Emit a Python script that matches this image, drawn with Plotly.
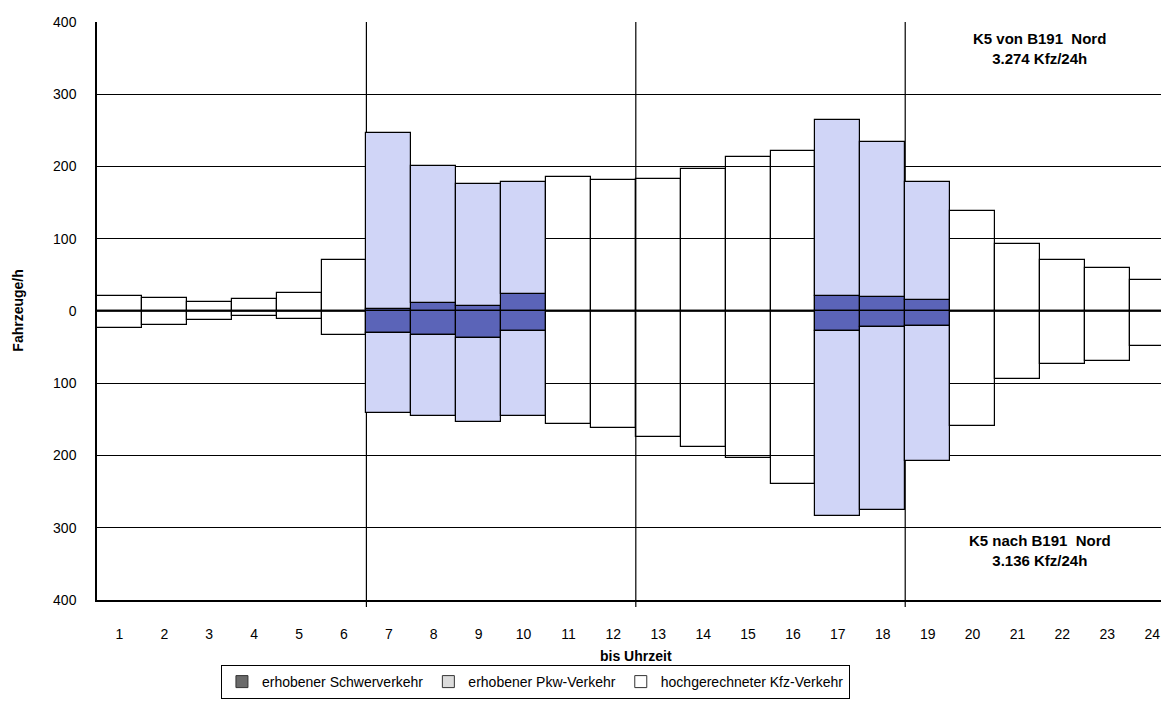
import plotly.graph_objects as go

# Stunden (bis Uhrzeit)
stunden = list(range(1, 25))
N = None

# Richtung "von B191 Nord" (nach oben)
von_schwer = [N, N, N, N, N, N, 3, 11, 7, 23, N, N, N, N, N, N, 21, 19, 15, N, N, N, N, N]
von_pkw = [N, N, N, N, N, N, 243, 190, 169, 155, N, N, N, N, N, N, 243, 215, 163, N, N, N, N, N]
von_hoch = [21, 18, 13, 17, 25, 71, N, N, N, N, 185, 181, 183, 197, 213, 222, N, N, N, 138, 93, 70, 59, 43]

# Richtung "nach B191 Nord" (nach unten)
nach_schwer = [N, N, N, N, N, N, 31, 33, 38, 27, N, N, N, N, N, N, 27, 22, 21, N, N, N, N, N]
nach_pkw = [N, N, N, N, N, N, 110, 113, 116, 119, N, N, N, N, N, N, 257, 254, 186, N, N, N, N, N]
nach_hoch = [23, 20, 13, 7, 11, 33, N, N, N, N, 157, 162, 175, 188, 204, 239, N, N, N, 159, 94, 74, 69, 49]

y_ticks = [400, 300, 200, 100, 0, -100, -200, -300, -400]
y_labels = ["400", "300", "200", "100", "0", "100", "200", "300", "400"]

dunkelblau = "#5B64B8"
hellblau = "#D0D5F7"
rand = dict(color="black", width=1.2)


def neg(werte):
    return [-v if v is not None else None for v in werte]


fig = go.Figure()

# Balken: Schwerverkehr innen, Pkw darauf, hochgerechnet (ohne Füllung)
for werte, farbe in [(von_schwer, dunkelblau), (von_pkw, hellblau), (von_hoch, "rgba(0,0,0,0)")]:
    fig.add_trace(go.Bar(x=stunden, y=werte, width=1, marker=dict(color=farbe, line=rand),
                         showlegend=False, hoverinfo="skip"))
for werte, farbe in [(nach_schwer, dunkelblau), (nach_pkw, hellblau), (nach_hoch, "rgba(0,0,0,0)")]:
    fig.add_trace(go.Bar(x=stunden, y=neg(werte), width=1, marker=dict(color=farbe, line=rand),
                         showlegend=False, hoverinfo="skip"))

# Legende (graue Kästchen wie im Original)
for name, farbe in [("erhobener Schwerverkehr", "#6a6a6a"),
                    ("erhobener Pkw-Verkehr", "#dcdcdc"),
                    ("hochgerechneter Kfz-Verkehr", "white")]:
    fig.add_trace(go.Bar(x=[None], y=[None], name=name,
                         marker=dict(color=farbe, line=dict(color="#333333", width=1))))

# senkrechte Trennlinien
for xv in [6.5, 12.5, 18.5]:
    fig.add_shape(type="line", xref="x", yref="paper", x0=xv, x1=xv, y0=-0.012, y1=1,
                  line=dict(color="black", width=1.2), layer="below")

fig.add_annotation(x=21.5, y=363, xref="x", yref="y", showarrow=False,
                   text="<b>K5 von B191  Nord<br>3.274 Kfz/24h</b>",
                   font=dict(size=15, color="black"))
fig.add_annotation(x=21.5, y=-332, xref="x", yref="y", showarrow=False,
                   text="<b>K5 nach B191  Nord<br>3.136 Kfz/24h</b>",
                   font=dict(size=15, color="black"))
fig.add_annotation(x=-0.074, y=0.5, xref="paper", yref="paper", showarrow=False,
                   xanchor="center", yanchor="middle",
                   text="<b>Fahrzeuge/h</b>", textangle=-90, font=dict(size=14, color="black"))
fig.add_annotation(x=12.5, y=-0.097, xref="x", yref="paper", showarrow=False,
                   xanchor="center", yanchor="middle",
                   text="<b>bis Uhrzeit</b>", font=dict(size=14, color="black"))

fig.update_layout(
    width=1161, height=691,
    barmode="relative",
    bargap=0,
    plot_bgcolor="white",
    paper_bgcolor="white",
    font=dict(family="Liberation Sans, Arial, sans-serif", size=14, color="black"),
    margin=dict(l=89, r=0, t=14, b=98),
    xaxis=dict(range=[0.5, 24.375], tickvals=stunden, showgrid=False, zeroline=False,
               showline=True, linecolor="black", linewidth=1.5, ticks="",
               ticklabelstandoff=20, tickfont=dict(size=14)),
    yaxis=dict(range=[-400, 400], tickvals=y_ticks, ticktext=y_labels,
               showgrid=True, gridcolor="black", gridwidth=1,
               zeroline=True, zerolinecolor="#222222", zerolinewidth=2,
               showline=True, linecolor="black", linewidth=1.5, ticks="",
               ticklabelstandoff=16, tickfont=dict(size=14)),
    legend=dict(orientation="h", x=0.409, y=-0.142, xanchor="center", yanchor="middle",
                bordercolor="black", borderwidth=1, bgcolor="white",
                font=dict(size=14), itemwidth=30, tracegroupgap=0),
)

fig.write_html("out.html")
